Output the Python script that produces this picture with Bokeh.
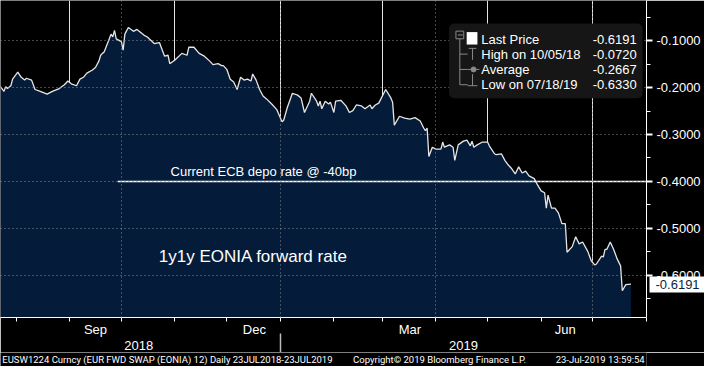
import pandas as pd
from bokeh.plotting import figure
from bokeh.layouts import column
from bokeh.models import (FixedTicker, DatetimeAxis, DatetimeTickFormatter, NumeralTickFormatter,
                          LinearAxis, Label, BoxAnnotation, Range1d, Grid)
from bokeh.embed import file_html
from bokeh.resources import INLINE

dates = ["2018-07-23","2018-07-25","2018-07-26","2018-07-27","2018-07-29","2018-07-30","2018-08-02","2018-08-04",
 "2018-08-06","2018-08-07","2018-08-10","2018-08-12","2018-08-15","2018-08-19","2018-08-22","2018-08-26",
 "2018-08-29","2018-08-31","2018-09-02","2018-09-05","2018-09-07","2018-09-09","2018-09-11","2018-09-14",
 "2018-09-16","2018-09-18","2018-09-19","2018-09-20","2018-09-21","2018-09-24","2018-09-25","2018-09-26",
 "2018-09-27","2018-09-28","2018-10-01","2018-10-02","2018-10-03","2018-10-05","2018-10-08","2018-10-10",
 "2018-10-14","2018-10-16","2018-10-20","2018-10-23","2018-10-26","2018-10-28","2018-10-29","2018-11-01",
 "2018-11-05","2018-11-08","2018-11-09","2018-11-12","2018-11-15","2018-11-18","2018-11-21","2018-11-23",
 "2018-11-26","2018-11-28","2018-11-29","2018-12-01","2018-12-03","2018-12-05","2018-12-07","2018-12-09",
 "2018-12-11","2018-12-13","2018-12-15","2018-12-16","2018-12-18","2018-12-20","2018-12-22","2018-12-24",
 "2018-12-27","2018-12-30","2019-01-02","2019-01-03","2019-01-05","2019-01-08","2019-01-11","2019-01-13",
 "2019-01-15","2019-01-18","2019-01-19","2019-01-22","2019-01-23","2019-01-24","2019-01-25","2019-01-27",
 "2019-01-29","2019-01-30","2019-02-01","2019-02-02","2019-02-05","2019-02-08","2019-02-10","2019-02-12",
 "2019-02-14","2019-02-17","2019-02-19","2019-02-22","2019-02-23","2019-02-25","2019-02-27","2019-03-03",
 "2019-03-06","2019-03-07","2019-03-08","2019-03-11","2019-03-14","2019-03-17","2019-03-20","2019-03-23",
 "2019-03-25","2019-03-26","2019-03-27","2019-03-28","2019-03-30","2019-04-01","2019-04-04","2019-04-05",
 "2019-04-06","2019-04-09","2019-04-11","2019-04-12","2019-04-14","2019-04-17","2019-04-19","2019-04-21",
 "2019-04-22","2019-04-23","2019-04-25","2019-04-28","2019-05-01","2019-05-02","2019-05-05","2019-05-06",
 "2019-05-09","2019-05-11","2019-05-13","2019-05-15","2019-05-17","2019-05-19","2019-05-21","2019-05-23",
 "2019-05-25","2019-05-28","2019-05-30","2019-06-01","2019-06-03","2019-06-04","2019-06-05","2019-06-07",
 "2019-06-09","2019-06-11","2019-06-13","2019-06-15","2019-06-16","2019-06-19","2019-06-21","2019-06-23",
 "2019-06-25","2019-06-28","2019-06-30","2019-07-02","2019-07-03","2019-07-06","2019-07-07","2019-07-08",
 "2019-07-09","2019-07-11","2019-07-13","2019-07-15","2019-07-17","2019-07-18","2019-07-20","2019-07-23"]

values = [-0.198,-0.208,-0.198,-0.202,-0.196,-0.182,-0.167,-0.178,
 -0.184,-0.180,-0.184,-0.204,-0.208,-0.214,-0.208,-0.202,
 -0.194,-0.186,-0.192,-0.196,-0.182,-0.178,-0.169,-0.163,
 -0.157,-0.143,-0.131,-0.127,-0.124,-0.096,-0.086,-0.092,
 -0.078,-0.096,-0.102,-0.120,-0.086,-0.072,-0.080,-0.076,
 -0.088,-0.092,-0.106,-0.104,-0.133,-0.131,-0.149,-0.141,
 -0.127,-0.131,-0.114,-0.114,-0.127,-0.133,-0.143,-0.151,
 -0.149,-0.153,-0.153,-0.161,-0.182,-0.188,-0.204,-0.178,
 -0.184,-0.182,-0.186,-0.171,-0.184,-0.204,-0.218,-0.224,
 -0.235,-0.247,-0.273,-0.269,-0.243,-0.212,-0.216,-0.222,
 -0.253,-0.229,-0.212,-0.229,-0.239,-0.229,-0.245,-0.229,
 -0.235,-0.231,-0.253,-0.229,-0.227,-0.239,-0.253,-0.249,
 -0.237,-0.239,-0.245,-0.237,-0.245,-0.237,-0.233,-0.204,
 -0.222,-0.231,-0.280,-0.261,-0.265,-0.267,-0.264,-0.271,
 -0.286,-0.292,-0.286,-0.347,-0.327,-0.331,-0.331,-0.316,
 -0.327,-0.322,-0.327,-0.355,-0.322,-0.314,-0.312,-0.324,
 -0.314,-0.327,-0.322,-0.316,-0.316,-0.324,-0.341,-0.343,
 -0.341,-0.355,-0.365,-0.373,-0.384,-0.369,-0.382,-0.378,
 -0.388,-0.394,-0.408,-0.420,-0.424,-0.457,-0.429,-0.457,
 -0.457,-0.467,-0.490,-0.490,-0.551,-0.539,-0.518,-0.533,
 -0.529,-0.549,-0.569,-0.578,-0.576,-0.559,-0.561,-0.545,
 -0.545,-0.529,-0.545,-0.565,-0.580,-0.633,-0.620,-0.619]

ecb_rate = -0.40
legend_names = ["Last Price", "High on 10/05/18", "Average", "Low on 07/18/19"]
legend_values = ["-0.6191", "-0.0720", "-0.2667", "-0.6330"]
last_price = -0.6191
y_ticks = [-0.1, -0.2, -0.3, -0.4, -0.5, -0.6]
y_minor = [-0.05, -0.15, -0.25, -0.35, -0.45, -0.55, -0.65]
month_starts = ["2018-08-01","2018-09-01","2018-10-01","2018-11-01","2018-12-01","2019-01-01","2019-02-01",
                "2019-03-01","2019-04-01","2019-05-01","2019-06-01","2019-07-01","2019-08-01"]
month_labels = ["2018-09-16","2018-12-17","2019-03-17","2019-06-15"]
quarter_grid = ["2018-10-01","2019-01-01","2019-04-01","2019-07-01"]
year_labels = ["2018-10-11","2019-04-17"]
year_divider = ["2019-01-01"]
footer_texts = ["EUSW1224 Curncy (EUR  FWD SWAP (EONIA) 12)  Daily 23JUL2018-23JUL2019",
                "Copyright\u00a9 2019 Bloomberg Finance L.P.",
                "23-Jul-2019 13:59:54"]

def ms(s):
    return pd.Timestamp(s).value / 1e6

X0 = pd.Timestamp("2018-07-23")
X1 = pd.Timestamp("2019-08-01")
NDAYS = (X1 - X0).days

# layout helpers: reference-pixel position -> data position
def xr(px):
    return (X0 + pd.Timedelta(days=px / 661 * NDAYS)).value / 1e6

def yr(py):
    return -0.1 - (py - 42) / 490

FONT = "Liberation Sans"
FOOT_FONT = "Roboto"
WHITE = "#ffffff"
GRAY = "#8a8a8a"
GRID = "#8c8c8c"

fig = figure(width=704, height=352, x_range=Range1d(ms(X0), ms(X1)), y_range=Range1d(-0.69, -0.0143),
             x_axis_type="datetime", x_axis_location=None, y_axis_location="right",
             output_backend="svg", toolbar_location=None,
             min_border_left=0, min_border_top=0, min_border_right=58, min_border_bottom=35,
             background_fill_color="black", border_fill_color="black", outline_line_color=None)

xs = [ms(d) for d in dates]
fig.varea(x=xs, y1=[-1.0] * len(xs), y2=values, fill_color="#041c3a")
fig.line(x=xs, y=values, line_color="#e6e6e6", line_width=1.3)

# ECB line
fig.line(x=[xr(120), ms(X1)], y=[ecb_rate, ecb_rate], line_color=WHITE, line_width=1.5)

# right axis
ya = fig.yaxis[0]
ya.ticker = FixedTicker(ticks=y_ticks, minor_ticks=y_minor)
ya.formatter = NumeralTickFormatter(format="0.0000")
ya.axis_line_color = WHITE
ya.major_tick_line_color = WHITE
ya.major_tick_line_width = 2
ya.major_tick_out = 6
ya.major_tick_in = 0
ya.minor_tick_line_color = WHITE
ya.minor_tick_out = 4
ya.minor_tick_in = 0
ya.major_label_standoff = 4
ya.major_label_text_color = WHITE
ya.major_label_text_font = FONT
ya.major_label_text_font_size = "13px"

# last-price tag drawn as an outer right axis with one wide tick
tag = LinearAxis(ticker=FixedTicker(ticks=[last_price], minor_ticks=[]),
                 formatter=NumeralTickFormatter(format="0.0000"))
tag.axis_line_color = None
tag.major_tick_line_color = WHITE
tag.major_tick_line_width = 16
tag.major_tick_in = 54
tag.major_tick_out = 6
tag.major_label_standoff = -54
tag.major_label_text_color = "#0b1f3f"
tag.major_label_text_font = FONT
tag.major_label_text_font_size = "13px"
fig.add_layout(tag, "right")

fig.ygrid.ticker = FixedTicker(ticks=y_ticks)
fig.ygrid.grid_line_color = GRID
fig.ygrid.grid_line_dash = "1 3"
fig.ygrid.level = "guide"

vg = Grid(dimension=0, ticker=FixedTicker(ticks=[ms(d) for d in quarter_grid]),
          grid_line_color=GRID, grid_line_dash="1 3", level="guide")
fig.add_layout(vg)

def fmt(f):
    return DatetimeTickFormatter(microseconds=f, milliseconds=f, seconds=f, minsec=f, minutes=f,
                                 hourmin=f, hours=f, days=f, months=f, years=f)

ax_m = DatetimeAxis(ticker=FixedTicker(ticks=[ms(d) for d in month_labels],
                                       minor_ticks=[ms(d) for d in month_starts]),
                    formatter=fmt("%b"))
ax_m.axis_line_color = WHITE
ax_m.major_tick_line_color = None
ax_m.major_tick_out = 3
ax_m.major_tick_in = 0
ax_m.minor_tick_line_color = WHITE
ax_m.minor_tick_out = 4
ax_m.minor_tick_in = 0
ax_m.major_label_standoff = 0
ax_m.major_label_text_color = WHITE
ax_m.major_label_text_font = FONT
ax_m.major_label_text_font_size = "13px"
fig.add_layout(ax_m, "below")

ax_y = DatetimeAxis(ticker=FixedTicker(ticks=[ms(d) for d in year_labels],
                                       minor_ticks=[ms(d) for d in year_divider]),
                    formatter=fmt("%Y"))
ax_y.axis_line_color = None
ax_y.major_tick_line_color = None
ax_y.major_tick_out = 0
ax_y.major_tick_in = 0
ax_y.minor_tick_line_color = "#bbbbbb"
ax_y.minor_tick_line_width = 1.5
ax_y.minor_tick_in = 6
ax_y.minor_tick_out = 13
ax_y.major_label_standoff = -12
ax_y.major_label_text_color = WHITE
ax_y.major_label_text_font = FONT
ax_y.major_label_text_font_size = "13px"
fig.add_layout(ax_y, "below")

# annotations
fig.add_layout(Label(x=xr(174), y=yr(179), text="Current ECB depo rate @ -40bp", text_color=WHITE,
                     text_font=FONT, text_font_size="13px", text_baseline="middle"))
fig.add_layout(Label(x=xr(162), y=yr(267), text="1y1y EONIA forward rate", text_color=WHITE,
                     text_font=FONT, text_font_size="17px", text_baseline="middle"))

# legend box
fig.add_layout(BoxAnnotation(left=xr(459), right=xr(657), top=yr(24), bottom=yr(102),
                             fill_color="#161616", fill_alpha=1.0, line_color=None, border_radius=5))
rows = [41, 56, 72, 88]
for name, val, ry in zip(legend_names, legend_values, rows):
    fig.add_layout(Label(x=xr(492), y=yr(ry), text=name, text_color=WHITE, text_font=FONT,
                         text_font_size="13px", text_baseline="middle"))
    fig.add_layout(Label(x=xr(651), y=yr(ry), text=val, text_color=WHITE, text_font=FONT,
                         text_font_size="13px", text_baseline="middle", text_align="right"))

tree_x = [[xr(470), xr(470)], [xr(470), xr(478)], [xr(470), xr(478)], [xr(470), xr(478)],
          [xr(483), xr(483)], [xr(479), xr(487)], [xr(478), xr(490)], [xr(483), xr(483)], [xr(478), xr(488)],
          [xr(468), xr(473)]]
tree_y = [[yr(40), yr(88)], [yr(56), yr(56)], [yr(72), yr(72)], [yr(88), yr(88)],
          [yr(50), yr(62)], [yr(50), yr(50)], [yr(72), yr(72)], [yr(77), yr(89)], [yr(89), yr(89)],
          [yr(36), yr(36)]]
fig.multi_line(xs=tree_x, ys=tree_y, line_color=GRAY, line_width=1, level="overlay")
fig.quad(left=[xr(466)], right=[xr(474)], top=[yr(32)], bottom=[yr(40)], fill_color=None,
         line_color=GRAY, level="overlay")
fig.quad(left=[xr(477)], right=[xr(488)], top=[yr(33)], bottom=[yr(46)], fill_color=WHITE,
         line_color=None, level="overlay")
fig.scatter(x=[xr(484)], y=[yr(72)], size=5, fill_color=GRAY, line_color=GRAY, level="overlay")

# footer strip (reference-pixel x coordinates)
foot = figure(width=704, height=14, x_range=Range1d(0, 720), y_range=Range1d(0, 1),
              x_axis_location=None, y_axis_location=None, output_backend="svg", toolbar_location=None,
              min_border_left=0, min_border_right=0, min_border_top=0, min_border_bottom=0,
              background_fill_color="black", border_fill_color="black", outline_line_color=None)
foot.xgrid.visible = False
foot.ygrid.visible = False
for txt, fx, al in zip(footer_texts, [2, 393, 718], ["left", "left", "right"]):
    foot.add_layout(Label(x=fx, y=0.5, text=txt, text_align=al, text_baseline="middle",
                          text_color=WHITE, text_font=FOOT_FONT, text_font_size="9.5px"))

p = column(fig, foot, spacing=0)
open("out.html", "w").write(file_html(p, INLINE))
